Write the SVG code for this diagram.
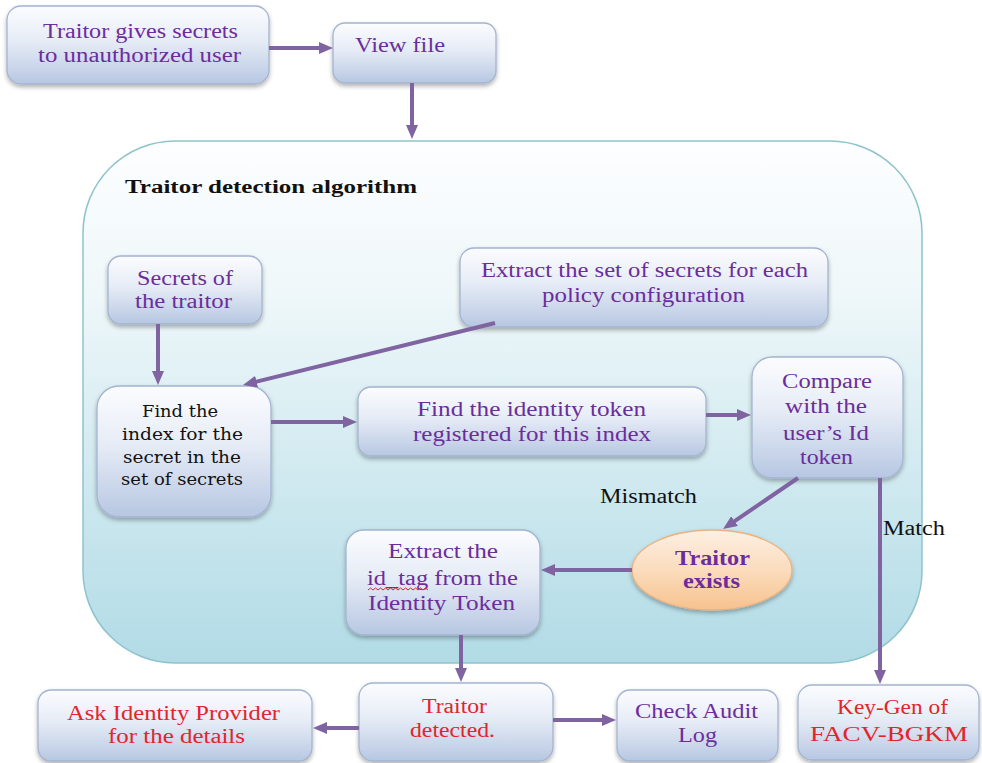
<svg xmlns="http://www.w3.org/2000/svg" width="982" height="763" viewBox="0 0 982 763">
<defs>
<linearGradient id="gBox" x1="0" y1="0" x2="0" y2="1">
<stop offset="0" stop-color="#fbfcfe"/>
<stop offset="0.45" stop-color="#e6ecf6"/>
<stop offset="1" stop-color="#b7c7e2"/>
</linearGradient>
<linearGradient id="gCont" x1="0" y1="0" x2="0" y2="1">
<stop offset="0" stop-color="#fdfeff"/>
<stop offset="0.3" stop-color="#eef7f9"/>
<stop offset="0.7" stop-color="#cbe7ee"/>
<stop offset="1" stop-color="#b1dbe6"/>
</linearGradient>
<linearGradient id="gEll" x1="0" y1="0" x2="0" y2="1">
<stop offset="0" stop-color="#fdf0e3"/>
<stop offset="0.5" stop-color="#fbdcbd"/>
<stop offset="1" stop-color="#f7c28e"/>
</linearGradient>
<filter id="sh" x="-10%" y="-10%" width="120%" height="130%">
<feDropShadow dx="0" dy="2.5" stdDeviation="2" flood-color="#000" flood-opacity="0.3"/>
</filter>
<marker id="ah" markerUnits="userSpaceOnUse" markerWidth="14" markerHeight="12" viewBox="0 0 14 12" refX="4" refY="6" orient="auto">
<path d="M0,0 L14,6 L0,12 z" fill="#8064a2"/>
</marker>
</defs>
<style>
.box{fill:url(#gBox);stroke:#a3b4d0;stroke-width:1.3;filter:url(#sh)}
.t{font-family:"Liberation Serif","Times New Roman",serif;font-size:20px;fill:#6c2d9c}
.red{fill:#e3242b}
.blk{fill:#111111}
.ttl{font-size:18px;font-weight:bold}
.cam{font-family:"DejaVu Serif",serif;font-size:16.5px;fill:#111111}
.b{font-weight:bold}
.c{fill:none;stroke:#8064a2;stroke-width:4;marker-end:url(#ah)}
</style>
<rect width="982" height="763" fill="#ffffff"/>

<g id="container">
<rect x="83" y="141" width="839" height="522" rx="92" ry="92" fill="url(#gCont)" stroke="#8ec3cc" stroke-width="1.5"/>
<text class="t blk ttl" x="125" y="193" textLength="292" lengthAdjust="spacingAndGlyphs">Traitor detection algorithm</text>
</g>

<g id="n-traitor-gives">
<rect class="box" x="7" y="6" width="262" height="78" rx="14"/>
<text class="t" x="43" y="38" textLength="195" lengthAdjust="spacingAndGlyphs">Traitor gives secrets</text>
<text class="t" x="38" y="62" textLength="203" lengthAdjust="spacingAndGlyphs">to unauthorized user</text>
</g>

<g id="n-view-file">
<rect class="box" x="333" y="23" width="163" height="60" rx="12"/>
<text class="t" x="355" y="52" textLength="90" lengthAdjust="spacingAndGlyphs">View file</text>
</g>

<g id="n-secrets">
<rect class="box" x="108" y="256" width="154" height="68" rx="13"/>
<text class="t" x="137" y="285" textLength="96" lengthAdjust="spacingAndGlyphs">Secrets of</text>
<text class="t" x="135" y="308" textLength="97" lengthAdjust="spacingAndGlyphs">the traitor</text>
</g>

<g id="n-extract-set">
<rect class="box" x="460" y="248" width="368" height="79" rx="14"/>
<text class="t" x="481" y="277" textLength="327" lengthAdjust="spacingAndGlyphs">Extract the set of secrets for each</text>
<text class="t" x="542" y="302" textLength="203" lengthAdjust="spacingAndGlyphs">policy configuration</text>
</g>

<g id="n-find-index">
<rect class="box" x="97" y="386" width="174" height="131" rx="22"/>
<text class="cam" x="142" y="417" textLength="76" lengthAdjust="spacingAndGlyphs">Find the</text>
<text class="cam" x="122" y="440" textLength="121" lengthAdjust="spacingAndGlyphs">index for the</text>
<text class="cam" x="123" y="463" textLength="118" lengthAdjust="spacingAndGlyphs">secret in the</text>
<text class="cam" x="121" y="485" textLength="122" lengthAdjust="spacingAndGlyphs">set of secrets</text>
</g>

<g id="n-find-identity">
<rect class="box" x="358" y="387" width="348" height="69" rx="13"/>
<text class="t" x="417" y="416" textLength="229" lengthAdjust="spacingAndGlyphs">Find the identity token</text>
<text class="t" x="413" y="441" textLength="238" lengthAdjust="spacingAndGlyphs">registered for this index</text>
</g>

<g id="n-compare">
<rect class="box" x="752" y="357" width="151" height="121" rx="20"/>
<text class="t" x="782" y="388" textLength="90" lengthAdjust="spacingAndGlyphs">Compare</text>
<text class="t" x="785" y="413" textLength="82" lengthAdjust="spacingAndGlyphs">with the</text>
<text class="t" x="783" y="440" textLength="86" lengthAdjust="spacingAndGlyphs">user’s Id</text>
<text class="t" x="800" y="464" textLength="53" lengthAdjust="spacingAndGlyphs">token</text>
</g>

<g id="n-traitor-exists">
<ellipse cx="712" cy="570" rx="80" ry="40" fill="url(#gEll)" stroke="#eab27e" stroke-width="1.3" filter="url(#sh)"/>
<text class="t b" x="675" y="565" textLength="75" lengthAdjust="spacingAndGlyphs">Traitor</text>
<text class="t b" x="683" y="588" textLength="57" lengthAdjust="spacingAndGlyphs">exists</text>
</g>

<g id="n-extract-id">
<rect class="box" x="346" y="530" width="194" height="105" rx="18"/>
<text class="t" x="388" y="558" textLength="110" lengthAdjust="spacingAndGlyphs">Extract the</text>
<text class="t" x="367" y="585" textLength="151" lengthAdjust="spacingAndGlyphs">id_tag from the</text>
<path d="M368,590 l2.5,-2 l2.5,2 l2.5,-2 l2.5,2 l2.5,-2 l2.5,2 l2.5,-2 l2.5,2 l2.5,-2 l2.5,2 l2.5,-2 l2.5,2 l2.5,-2 l2.5,2 l2.5,-2 l2.5,2 l2.5,-2 l2.5,2 l2.5,-2 l2.5,2 l2.5,-2 l2.5,2 l2.5,-2 l2.5,2" fill="none" stroke="#e02424" stroke-width="1"/>
<text class="t" x="368" y="610" textLength="147" lengthAdjust="spacingAndGlyphs">Identity Token</text>
</g>

<g id="n-detected">
<rect class="box" x="359" y="683" width="194" height="78" rx="14"/>
<text class="t red" x="422" y="713" textLength="65" lengthAdjust="spacingAndGlyphs">Traitor</text>
<text class="t red" x="410" y="737" textLength="85" lengthAdjust="spacingAndGlyphs">detected.</text>
</g>

<g id="n-ask">
<rect class="box" x="38" y="690" width="274" height="71" rx="13"/>
<text class="t red" x="67" y="720" textLength="213" lengthAdjust="spacingAndGlyphs">Ask Identity Provider</text>
<text class="t red" x="108" y="743" textLength="137" lengthAdjust="spacingAndGlyphs">for the details</text>
</g>

<g id="n-check">
<rect class="box" x="617" y="690" width="161" height="71" rx="13"/>
<text class="t" x="635" y="718" textLength="123" lengthAdjust="spacingAndGlyphs">Check Audit</text>
<text class="t" x="678" y="742" textLength="39" lengthAdjust="spacingAndGlyphs">Log</text>
</g>

<g id="n-keygen">
<rect class="box" x="798" y="685" width="181" height="75" rx="14"/>
<text class="t red" x="837" y="714" textLength="111" lengthAdjust="spacingAndGlyphs">Key-Gen of</text>
<text class="t red" x="810" y="741" textLength="158" lengthAdjust="spacingAndGlyphs">FACV-BGKM</text>
</g>

<g id="connectors">
<path class="c" d="M269,48 L323,48"/>
<path class="c" d="M412,83 L412,129"/>
<path class="c" d="M158,324 L158,375"/>
<path class="c" d="M495,323 L252.7,382.6"/>
<path class="c" d="M271,422 L347,422"/>
<path class="c" d="M706,415 L741,415"/>
<path class="c" d="M798,478 L731.3,523.4"/>
<path class="c" d="M880,478 L880,674"/>
<path class="c" d="M632,570 L551,570"/>
<path class="c" d="M461,635 L461,672"/>
<path class="c" d="M553,720 L606,720"/>
<path class="c" d="M359,728 L323,728"/>
<text class="t blk" x="600" y="503" textLength="97" lengthAdjust="spacingAndGlyphs">Mismatch</text>
<text class="t blk" x="883" y="535" textLength="62" lengthAdjust="spacingAndGlyphs">Match</text>
</g>
</svg>
